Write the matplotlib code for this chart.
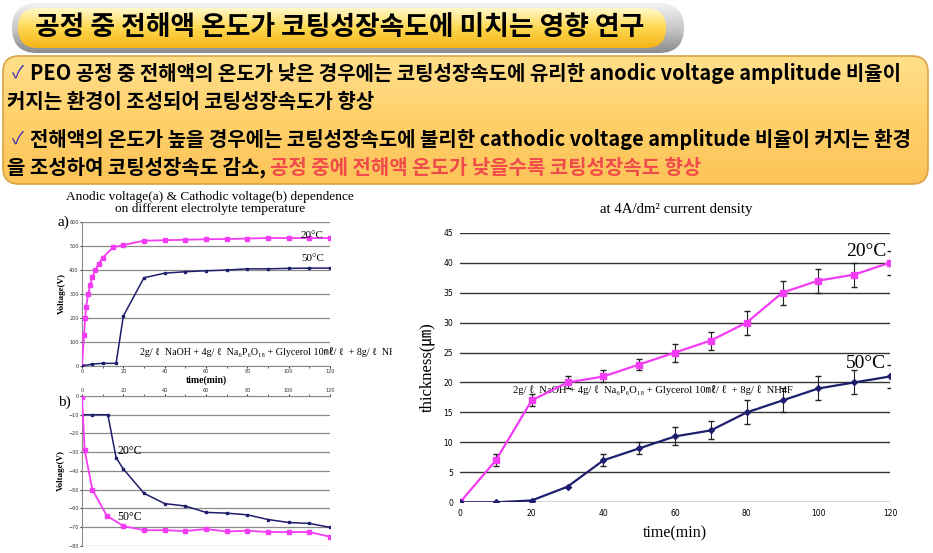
import matplotlib.pyplot as plt
import numpy as np
from matplotlib.patches import FancyBboxPatch
from matplotlib.colors import LinearSegmentedColormap
from matplotlib.transforms import Bbox, TransformedBbox

KR = ['Noto Sans CJK KR', 'DejaVu Sans']
SERIF = ['Liberation Serif', 'DejaVu Serif', 'Noto Sans CJK KR']
MAG = '#F53CF5'
NAVY = '#1E1E6E'

title = '공정 중 전해액 온도가 코팅성장속도에 미치는 영향 연구'
line1 = 'PEO 공정 중 전해액의 온도가 낮은 경우에는 코팅성장속도에 유리한 anodic voltage amplitude 비율이'
line2 = '커지는 환경이 조성되어 코팅성장속도가 향상'
line3 = '전해액의 온도가 높을 경우에는 코팅성장속도에 불리한 cathodic voltage amplitude 비율이 커지는 환경'
line4 = '을 조성하여 코팅성장속도 감소, '
line4_red = '공정 중에 전해액 온도가 낮을수록 코팅성장속도 향상'
formula = '2g/ ℓ  NaOH + 4g/ ℓ  Na₆P₆O₁₈ + Glycerol 10㎖/ ℓ  + 8g/ ℓ  NH4F'

# (a) anodic voltage
t_a20 = [0, 1, 1.5, 2, 3, 4, 5, 6.5, 8, 10, 15, 20, 30, 40, 50, 60, 70, 80, 90, 100, 110, 120]
v_a20 = [0, 130, 198, 246, 300, 338, 370, 400, 425, 450, 493, 503, 521, 523, 525, 527, 528, 530, 532, 532, 532, 532]
t_a50 = [0, 5, 10, 16.5, 20, 30, 40, 50, 60, 70, 80, 90, 100, 110, 120]
v_a50 = [0, 8, 11, 11, 208, 367, 386, 392, 396, 399, 404, 404, 406, 407, 407]

# (b) cathodic voltage
t_b = [0, 1.3, 5, 12, 20, 30, 40, 50, 60, 70, 80, 90, 100, 110, 120]
v_b50 = [-0.5, -29, -50, -64, -69.5, -71.7, -71.7, -72.2, -71.1, -72.4, -72, -72.7, -72.7, -72.7, -75.2]
t_b20 = [0, 5, 12.5, 16.5, 20, 30, 40, 50, 60, 70, 80, 90, 100, 110, 120]
v_b20 = [-10, -10, -10, -33, -39, -52, -57.5, -58.8, -62.2, -62.6, -63.5, -66, -67.6, -68.1, -70.2]

# thickness
t_th = [0, 10, 20, 30, 40, 50, 60, 70, 80, 90, 100, 110, 120]
th20 = [0, 7, 17, 20, 21, 23, 25, 27, 30, 35, 37, 38, 40]
err20 = [0, 1, 1, 1, 1, 1, 1.5, 1.5, 2, 2, 2, 2, 2]
th50 = [0, 0, 0.3, 2.6, 7, 9, 11, 12, 15, 17, 19, 20, 21]
err50 = [0, 0, 0, 0, 1, 1, 1.5, 1.5, 2, 2, 2, 2, 2]

W, H = 933, 553
fig = plt.figure(figsize=(W / 100, H / 100), dpi=100)
bg = fig.add_axes([0, 0, 1, 1])
bg.set_xlim(0, W)
bg.set_ylim(H, 0)
bg.axis('off')


def box(x0, y0, x1, y1, r, colors, edge=None, lw=0, z=1):
    p = FancyBboxPatch((x0, y0), x1 - x0, y1 - y0,
                       boxstyle='round,pad=0,rounding_size=%g' % r,
                       facecolor='none', edgecolor=edge or 'none', lw=lw, zorder=z + 0.5)
    bg.add_patch(p)
    cm = LinearSegmentedColormap.from_list('g', colors)
    grad = np.linspace(0, 1, 64).reshape(-1, 1)
    im = bg.imshow(grad, extent=(x0, x1, y1, y0), aspect='auto', cmap=cm, zorder=z)
    clip = FancyBboxPatch((x0, y0), x1 - x0, y1 - y0,
                          boxstyle='round,pad=0,rounding_size=%g' % r,
                          transform=bg.transData, facecolor='none')
    im.set_clip_path(clip)


# banner
box(12, 3, 684, 53, 25, ['#f2f2f2', '#c8c8c8', '#8c8c8c'])
box(18, 8, 666, 48, 20, ['#fff8c8', '#ffd850', '#f5b418'], z=2)
bg.text(340, 27, title, fontsize=19.3, fontweight='bold', family=KR,
        ha='center', va='center', zorder=5)

# text box
box(3, 56, 928, 184, 16, ['#ffdf8c', '#ffd06a', '#fcc458'], edge='#d9a345', lw=1.2, z=1)
bg.set_xlim(0, W)
bg.set_ylim(H, 0)

kw = dict(fontsize=14.4, fontweight='bold', family=KR, va='center', zorder=5)
ck = dict(color='#3a2ab8', fontsize=12.5, family=KR, va='center', zorder=5)
bg.text(12, 73, '✓', **ck)
bg.text(30, 73, line1, **kw)
bg.text(7, 101, line2, **kw)
bg.text(12, 139, '✓', **ck)
bg.text(30, 139, line3, **kw)
blk = bg.text(7, 167, line4, **kw)
bg.annotate(line4_red, xy=(1, 0.5), xycoords=blk, color='#f24b4b',
            fontsize=14.4, fontweight='bold', family=KR, va='center', ha='left', zorder=5)


def rect(l, t, r, b):
    return [l / W, 1 - b / H, (r - l) / W, (b - t) / H]


# chart (a)
bg.text(210, 203, 'Anodic voltage(a) & Cathodic voltage(b) dependence\non different electrolyte temperature',
        fontsize=9.6, family=SERIF, ha='center', va='center', linespacing=1.0)
axa = fig.add_axes(rect(82, 221.7, 330, 366))
axa.set_facecolor('none')
axa.plot(t_a20, v_a20, color=MAG, lw=1.3, marker='s', ms=2.3, zorder=3)
axa.plot(t_a50, v_a50, color=NAVY, lw=1.1, marker='s', ms=1.6, zorder=3)
axa.set_xlim(0, 120)
axa.set_ylim(0, 600)
axa.set_yticks(range(0, 601, 100))
axa.set_xticks(range(0, 121, 20))
axa.set_xticks(range(0, 121, 10), minor=True)
axa.grid(axis='y', color='#8a8a8a', lw=0.9)
for s in ['top', 'right']:
    axa.spines[s].set_visible(False)
for s in ['left', 'bottom']:
    axa.spines[s].set_color('#8a8a8a')
axa.tick_params(labelsize=3.5, length=1.5, pad=1, colors='#333333', which='both')
axa.set_ylabel('Voltage(V)', fontsize=6.5, fontweight='bold', family=SERIF, labelpad=2)
axa.set_xlabel('time(min)', fontsize=7, fontweight='bold', family=SERIF, labelpad=1)
axa.text(117, 544, '20°C', fontsize=8, family=SERIF, ha='right', va='center')
axa.text(117, 445, '50°C', fontsize=8, family=SERIF, ha='right', va='center')
bg.text(58, 222, 'a)', fontsize=11, family=SERIF, va='center')
ft = axa.text(28, 58, formula, fontsize=7.2, family=SERIF, va='center')
ft.set_clip_box(TransformedBbox(Bbox.from_extents(0, 0, 3.92, 5.53), fig.dpi_scale_trans))
ft.set_clip_on(True)

# chart (b)
axb = fig.add_axes(rect(82, 396, 330, 545.7))
axb.set_facecolor('none')
axb.plot(t_b20, v_b20, color=NAVY, lw=1.1, marker='s', ms=1.6, zorder=3)
axb.plot(t_b, v_b50, color=MAG, lw=1.3, marker='s', ms=2.3, zorder=3)
axb.set_xlim(0, 120)
axb.set_ylim(-80, 0)
axb.set_yticks(range(-80, 1, 10))
axb.set_xticks(range(0, 121, 20))
axb.set_xticks(range(0, 121, 10), minor=True)
axb.xaxis.tick_top()
axb.grid(axis='y', color='#8a8a8a', lw=0.9)
for s in ['bottom', 'right']:
    axb.spines[s].set_visible(False)
for s in ['left', 'top']:
    axb.spines[s].set_color('#8a8a8a')
axb.tick_params(labelsize=3.5, length=1.5, pad=1, colors='#333333', which='both')
axb.set_ylabel('Voltage(V)', fontsize=6.5, fontweight='bold', family=SERIF, labelpad=2)
axb.text(17, -29.5, '20°C', fontsize=8.5, family=SERIF, va='center')
axb.text(17, -64.5, '50°C', fontsize=8.5, family=SERIF, va='center')
bg.text(58, 402, 'b)', fontsize=11, family=SERIF, va='center')

# thickness chart
bg.text(676, 210, 'at 4A/dm² current density', fontsize=10.7, family=SERIF, ha='center', va='center')
axc = fig.add_axes(rect(460, 232.7, 890, 502.3))
axc.set_facecolor('none')
axc.errorbar(t_th, th20, yerr=err20, color=MAG, lw=1.6, marker='s', ms=5,
             ecolor='#222222', elinewidth=0.8, capsize=2, zorder=3)
axc.errorbar(t_th, th50, yerr=err50, color=NAVY, lw=1.6, marker='D', ms=3,
             ecolor='#222222', elinewidth=0.8, capsize=2, zorder=3)
axc.set_xlim(0, 120)
axc.set_ylim(0, 45)
axc.set_yticks(range(0, 46, 5))
axc.set_xticks(range(0, 121, 20))
axc.grid(axis='y', color='#333333', lw=1.0)
for s in axc.spines.values():
    s.set_visible(False)
axc.tick_params(labelsize=5.5, length=0, pad=5)
axc.set_xlabel('time(min)', fontsize=11.5, family=SERIF, labelpad=5)
axc.set_ylabel('thickness(㎛)', fontsize=12, family=SERIF, labelpad=6)
axc.text(119, 41.9, '20°C', fontsize=14, family=SERIF, ha='right', va='center')
axc.text(119, 23.2, '50°C', fontsize=14, family=SERIF, ha='right', va='center')
axc.text(14.8, 18.8, formula, fontsize=7.6, family=SERIF, va='center')

fig.savefig('out.png', dpi=100)
